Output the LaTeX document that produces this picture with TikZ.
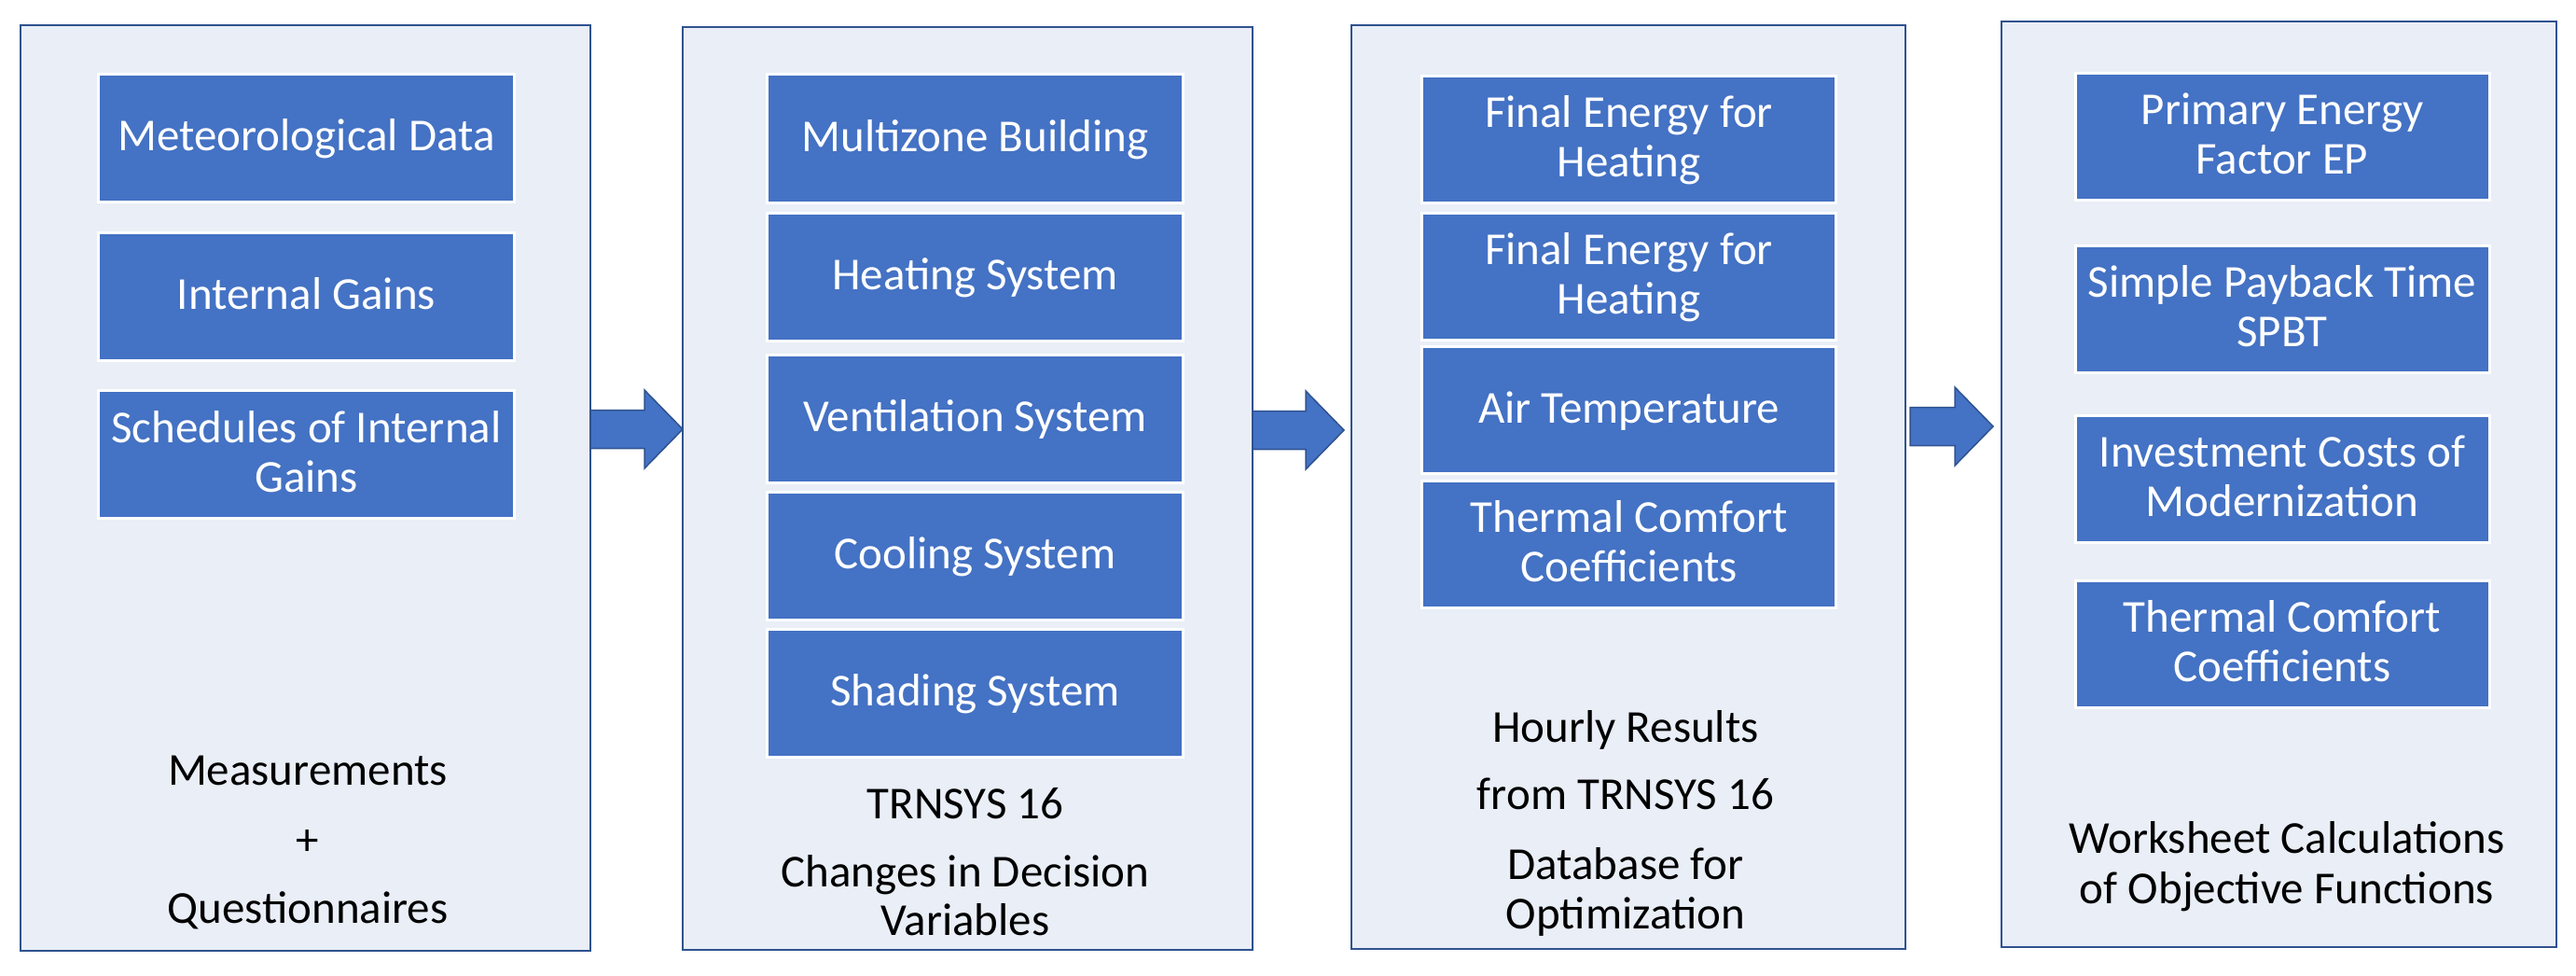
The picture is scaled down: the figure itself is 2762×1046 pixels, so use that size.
\documentclass[tikz,border=0pt]{standalone}
\usepackage{fontspec}
\setmainfont{Carlito}
\usetikzlibrary{calc}
\definecolor{panelfill}{HTML}{E9EEF7}
\definecolor{paneldraw}{HTML}{2F528F}
\definecolor{boxfill}{HTML}{4472C4}
\newcommand\mystrut{\rule[-10.4pt]{0pt}{48.4pt}}
\newcommand\blockarrow[2]{%
  \filldraw[arrowshape] let \p1=(#1), \p2=(#2) in
    (\x1,{\y1+20.5pt}) -- ({\x2-41pt},{\y1+20.5pt}) -- ({\x2-41pt},{\y1+42pt})
    -- (\x2,\y1) -- ({\x2-41pt},{\y1-42pt}) -- ({\x2-41pt},{\y1-20.5pt})
    -- (\x1,{\y1-20.5pt}) -- cycle;}
\begin{document}
\begin{tikzpicture}[x=1pt,y=-1pt,
  panel/.style={draw=paneldraw,fill=panelfill,line width=2.5pt,inner sep=0pt,outer sep=0pt,rectangle},
  bluebox/.style={draw=white,fill=boxfill,line width=3pt,inner sep=0pt,outer sep=0pt,rectangle,
    text=white,align=center,font=\fontsize{49}{53}\selectfont},
  paneltext/.style={anchor=base,inner sep=0pt,text=black,font=\fontsize{49}{53}\selectfont},
  arrowshape/.style={fill=boxfill,draw=paneldraw,line width=1.5pt,line join=miter}]
\useasboundingbox (0,0) rectangle (2762,1046);

% panels
\node[panel,minimum width=611pt,minimum height=992pt] (p1) at (327.5,523) {};
\node[panel,minimum width=611pt,minimum height=989pt] (p2) at (1037.5,523.5) {};
\node[panel,minimum width=594pt,minimum height=990pt] (p3) at (1746,522) {};
\node[panel,minimum width=595pt,minimum height=992pt] (p4) at (2443.5,519) {};

% panel 1 boxes
\begin{scope}[every node/.style={bluebox,minimum width=446pt,minimum height=137pt}]
\node (b11) at (328.5,148) {\mystrut Meteorological Data};
\node (b12) at (328.5,318) {\mystrut Internal Gains};
\node (b13) at (328.5,487) {\mystrut Schedules of Internal\\\mystrut Gains};
% panel 2 boxes
\node (b21) at (1045.5,148.5) {\mystrut Multizone Building};
\node (b22) at (1045.5,296.5) {\mystrut Heating System};
\node (b23) at (1045.5,448.5) {\mystrut Ventilation System};
\node (b24) at (1045.5,596) {\mystrut Cooling System};
\node (b25) at (1045.5,743) {\mystrut Shading System};
\end{scope}
\begin{scope}[every node/.style={bluebox,minimum width=444pt,minimum height=136pt}]
% panel 3 boxes
\node (b31) at (1746.5,149.5) {\mystrut Final Energy for\\\mystrut Heating};
\node (b32) at (1746.5,296.5) {\mystrut Final Energy for\\\mystrut Heating};
\node (b33) at (1746.5,439.5) {\mystrut Air Temperature};
\node (b34) at (1746.5,583.5) {\mystrut Thermal Comfort\\\mystrut Coefficients};
% panel 4 boxes
\node (b41) at (2447,146.5) {\mystrut Primary Energy\\\mystrut Factor EP};
\node (b42) at (2447,331.5) {\mystrut Simple Payback Time\\\mystrut SPBT};
\node (b43) at (2447,513) {\mystrut Investment Costs of\\\mystrut Modernization};
\node (b44) at (2447,690.5) {\mystrut Thermal Comfort\\\mystrut Coefficients};
\end{scope}

% panel captions
\node[paneltext] (t11) at (330,841) {Measurements};
\node[paneltext] (t12) at (330,916) {+};
\node[paneltext] (t13) at (330,989) {Questionnaires};
\node[paneltext] (t21) at (1035,877) {TRNSYS 16};
\node[paneltext] (t22) at (1035,950) {Changes in Decision};
\node[paneltext] (t23) at (1035,1002) {Variables};
\node[paneltext] (t31) at (1743,795) {Hourly Results};
\node[paneltext] (t32) at (1743,867) {from TRNSYS 16};
\node[paneltext] (t33) at (1743,942) {Database for};
\node[paneltext] (t34) at (1743,995) {Optimization};
\node[paneltext] (t41) at (2452,914) {Worksheet Calculations};
\node[paneltext] (t42) at (2452,968) {of Objective Functions};

% block arrows between panels
\coordinate (a1s) at (p1.east |- 0,460);
\coordinate (a1e) at (p2.west |- 0,460);
\coordinate (a2s) at (p2.east |- 0,461);
\coordinate (a2e) at ($(p3.west |- 0,461)+(-8,0)$);
\coordinate (a3s) at ($(p3.east |- 0,457)+(5,0)$);
\coordinate (a3e) at ($(p4.west |- 0,457)+(-9,0)$);
\blockarrow{a1s}{a1e}
\blockarrow{a2s}{a2e}
\blockarrow{a3s}{a3e}
\end{tikzpicture}
\end{document}
